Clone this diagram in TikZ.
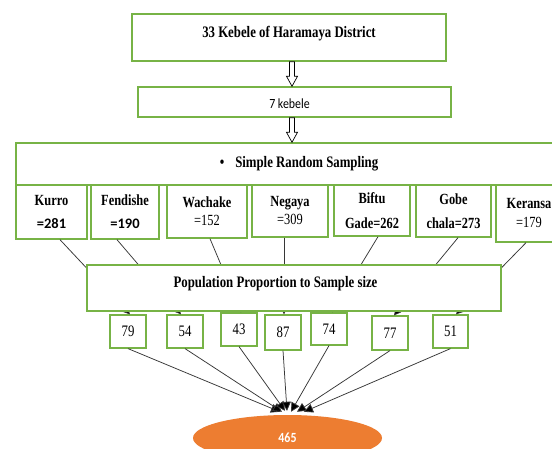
\documentclass[tikz,border=0pt]{standalone}
\usepackage{fontspec}
\setmainfont{Liberation Serif}
\newfontfamily\tnr[FakeStretch=0.8]{Liberation Serif}
\newfontfamily\carl{Carlito}
\newfontfamily\carln[FakeStretch=0.85]{Carlito}
\usetikzlibrary{calc,arrows.meta,shapes.geometric}
\definecolor{bgreen}{RGB}{119,179,70}
\definecolor{lorange}{RGB}{237,125,49}
\definecolor{lgray}{RGB}{55,55,55}
\begin{document}
\begin{tikzpicture}[x=1pt,y=-1pt,
  box/.style={draw=bgreen, line width=1.4pt, fill=white, inner sep=0pt, align=center},
  sbox/.style={box, line width=1.2pt, font=\tnr\fontsize{16}{18}\selectfont},
  conn/.style={draw=lgray, line width=0.75pt},
  arr/.style={conn, -{Triangle[length=7pt,width=7pt,fill=black]}},
  barr/.style={conn, -{Triangle[length=9pt,width=9pt,fill=black]}},
  hollow/.style={draw=black, line width=0.7pt, fill=white},
  ttl/.style={font=\tnr\bfseries\fontsize{16}{18}\selectfont, inner sep=0pt},
  kb/.style={box, font=\tnr\fontsize{15.5}{23}\selectfont},
]
\clip (0,0) rectangle (552,449);
\fill[white] (0,0) rectangle (552,449);

% top boxes
\node[box, minimum width=314, minimum height=47] (top) at (289,37.5) {};
\node[ttl] (toptxt) at (289,34) {33 Kebele of Haramaya District};
\node[box, minimum width=313, minimum height=30] (k7) at (294.5,102) {};
\node[font=\carln\fontsize{14}{16}\selectfont, inner sep=0pt] (k7txt) at (289.5,104) {7 kebele};
\node[box, minimum width=564, minimum height=42] (srs) at (298,164) {};
\node[ttl] (srstxt) at (299,164) {\textbullet\hspace{11pt}Simple Random Sampling};

% hollow arrows
\coordinate (ax) at (292,0);
\draw[hollow] ($(top.south -| ax)+(-2.5,0)$) -- ($(k7.north -| ax)+(-2.5,-10)$) -- ($(k7.north -| ax)+(-5.5,-10)$) -- (k7.north -| ax) -- ($(k7.north -| ax)+(5.5,-10)$) -- ($(k7.north -| ax)+(2.5,-10)$) -- ($(top.south -| ax)+(2.5,0)$) -- cycle;
\draw[hollow] ($(k7.south -| ax)+(-2.5,0)$) -- ($(srs.north -| ax)+(-2.5,-10)$) -- ($(srs.north -| ax)+(-5.5,-10)$) -- (srs.north -| ax) -- ($(srs.north -| ax)+(5.5,-10)$) -- ($(srs.north -| ax)+(2.5,-10)$) -- ($(k7.south -| ax)+(2.5,0)$) -- cycle;

% kebele boxes
\node[kb, minimum width=71, minimum height=54] (kur) at (51.5,212) {\bfseries Kurro\\{\carl\bfseries\fontsize{14.5}{23}\selectfont =281}};
\node[kb, minimum width=68, minimum height=54] (fen) at (125,212) {\bfseries Fendishe\\{\carl\bfseries\fontsize{14.5}{23}\selectfont =190}};
\node[kb, minimum width=80, minimum height=53, font=\tnr\fontsize{15.5}{18}\selectfont] (wac) at (207,211.5) {\bfseries Wachake\\=152};
\node[kb, minimum width=76, minimum height=52, font=\tnr\fontsize{15.5}{18}\selectfont] (neg) at (290,211) {\bfseries Negaya\\=309};
\node[kb, minimum width=76, minimum height=51, font=\tnr\fontsize{15.5}{25}\selectfont] (bif) at (372,210.5) {\bfseries Biftu\\\bfseries Gade=262};
\node[kb, minimum width=75, minimum height=52, font=\tnr\fontsize{15.5}{24}\selectfont] (gob) at (453.5,211) {\bfseries Gobe\\\bfseries chala=273};
\node[kb, minimum width=66, minimum height=57, font=\tnr\fontsize{15.5}{19}\selectfont] (ker) at (529,213.5) {\bfseries Keransa\\=179};

% sample boxes
\node[sbox, minimum width=36, minimum height=33] (n79) at (128,331.5) {79};
\node[sbox, minimum width=36, minimum height=33] (n54) at (185,331.5) {54};
\node[sbox, minimum width=36, minimum height=33] (n43) at (239,329.5) {43};
\node[sbox, minimum width=36, minimum height=35] (n87) at (283,332.5) {87};
\node[sbox, minimum width=36, minimum height=32] (n74) at (329,329) {74};
\node[sbox, minimum width=36, minimum height=34] (n77) at (390,333) {77};
\node[sbox, minimum width=35, minimum height=33] (n51) at (450.5,331.5) {51};

% kebele -> sample arrows (pass behind the PPS box)
\draw[arr] ([xshift=8.5pt]kur.south) -- ([xshift=2pt]n79.north);
\draw[arr] ([xshift=-8pt]fen.south) -- ([xshift=-4pt]n54.north);
\draw[arr] ([xshift=3pt]wac.south) -- ([xshift=2pt]n43.north);
\draw[arr] ([xshift=-6pt]neg.south) -- ([xshift=1pt]n87.north);
\draw[arr] ([xshift=6pt]bif.south) -- ([xshift=3pt]n74.north);
\draw[arr] ([xshift=4.5pt]gob.south) -- ([xshift=4pt]n77.north);
\draw[arr] ([xshift=-3pt]ker.south) -- ([xshift=5.5pt]n51.north);

% PPS box
\node[box, minimum width=414, minimum height=46] (pps) at (294,288) {};
\node[ttl] (ppstxt) at (275.5,284) {Population Proportion to Sample size};

% ellipse
\node[ellipse, fill=lorange, minimum width=189, minimum height=46, inner sep=0pt,
      text=white, font=\carln\bfseries\fontsize{14}{16}\selectfont] (ell) at (287.5,438) {465};

% sample -> ellipse arrows
\draw[barr] (n79.south) -- ($(ell.north)+(-7.5,-3)$);
\draw[barr] (n54.south) -- ($(ell.north)+(-5.5,-3)$);
\draw[barr] (n43.south) -- ($(ell.north)+(-2.5,-4)$);
\draw[barr] (n87.south) -- ($(ell.north)+(-0.5,-4)$);
\draw[barr] (n74.south) -- ($(ell.north)+(3.5,-3)$);
\draw[barr] (n77.south) -- ($(ell.north)+(9.5,-3)$);
\draw[barr] (n51.south) -- ($(ell.north)+(16.5,-3)$);
\end{tikzpicture}
\end{document}
